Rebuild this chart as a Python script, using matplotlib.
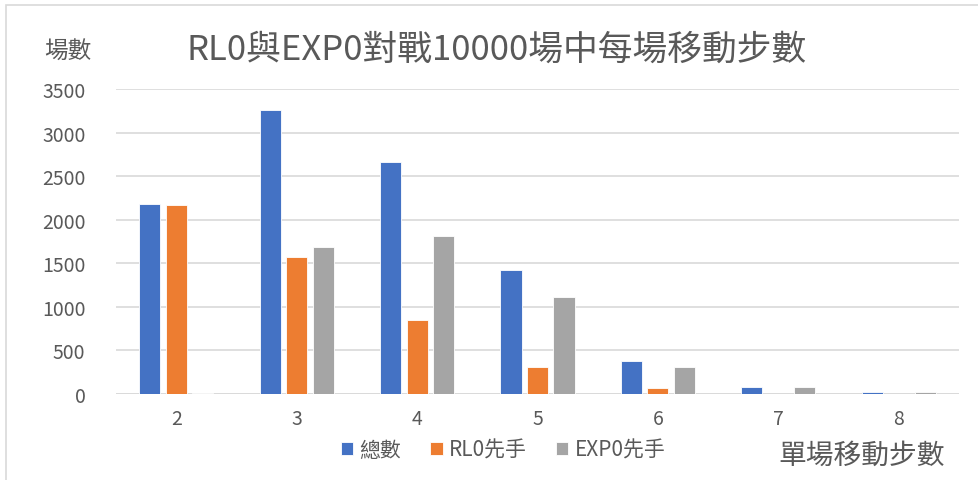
import numpy as np
import matplotlib
matplotlib.use('Agg')
import matplotlib.pyplot as plt
from matplotlib.patches import Rectangle

plt.rcParams['font.family'] = ['Noto Sans CJK TC', 'DejaVu Sans']

steps = ['2', '3', '4', '5', '6', '7', '8']
total = [2180, 3262, 2658, 1420, 378, 82, 20]
rl0_first = [2170, 1575, 848, 312, 70, 3, 0]
exp0_first = [10, 1687, 1810, 1108, 308, 79, 20]

series = [('總數', total, '#4472C4'),
          ('RL0先手', rl0_first, '#ED7D31'),
          ('EXP0先手', exp0_first, '#A5A5A5')]

W, H = 979, 481
fig = plt.figure(figsize=(W / 100, H / 100), dpi=100)
ax = fig.add_axes([116 / W, 1 - 395 / H, (959 - 116) / W, (395 - 90) / H])

text_col = '#595959'
grid_col = '#D9D9D9'

x = np.arange(len(steps))
width = 0.175
offsets = [-0.22, 0.0, 0.22]
handles = []
for (name, vals, col), off in zip(series, offsets):
    h = ax.bar(x + off, vals, width, color=col, edgecolor='white',
               linewidth=0.6, label=name, zorder=3)
    handles.append(h)

ax.set_xlim(-0.5, len(steps) - 0.5)
ax.set_ylim(0, 3500)
ax.set_yticks(np.arange(0, 3501, 500))
ax.set_xticks(x)
ax.set_xticklabels(steps)
ax.yaxis.grid(True, color=grid_col, linewidth=1.2, zorder=0)
ax.set_axisbelow(True)
for s in ax.spines.values():
    s.set_visible(False)
ax.axhline(0, color=grid_col, linewidth=1.2, zorder=1)
ax.tick_params(length=0, labelsize=14, labelcolor=text_col)
ax.tick_params(axis='y', pad=22)
ax.tick_params(axis='x', pad=10)

fig.text(68 / W, 1 - 52 / H, '場數', fontsize=17, color=text_col,
         ha='center', va='center')
fig.text(497 / W, 1 - 50 / H, 'RL0與EXP0對戰10000場中每場移動步數',
         fontsize=25, color=text_col, ha='center', va='center')
fig.text(862 / W, 1 - 456 / H, '單場移動步數', fontsize=20,
         color=text_col, ha='center', va='center')

fig.legend(handles=handles, loc='center', bbox_to_anchor=(503 / W, 1 - 451 / H),
           ncol=3, frameon=False, fontsize=15, labelcolor=text_col,
           handlelength=0.6, handleheight=0.6, handletextpad=0.3,
           columnspacing=1.4)

# chart frame (top and left edges visible)
fig.patches.append(Rectangle((6 / W, -0.05), 1.0, 1 - 6 / H + 0.05,
                             transform=fig.transFigure, fill=False,
                             edgecolor='#D9D9D9', linewidth=1.2))

fig.savefig('out.png', dpi=100)
